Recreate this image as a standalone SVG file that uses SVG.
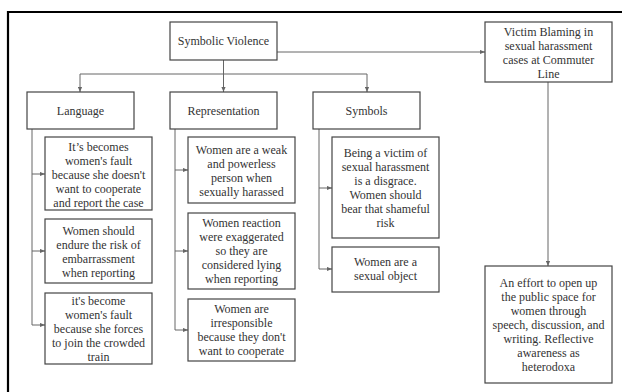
<svg xmlns="http://www.w3.org/2000/svg" width="622" height="392" viewBox="0 0 622 392">
<style>
.box{fill:#fff;stroke:#444;stroke-width:1.2}
.ln{fill:none;stroke:#666;stroke-width:1}
.t text{font-size:12px;fill:#333;text-anchor:middle}
</style>
<defs>
<marker id="ah" viewBox="0 0 6 6" refX="6" refY="3" markerWidth="5" markerHeight="5" orient="auto">
<path d="M0,0.5 L6,3 L0,5.5 z" fill="#666"/>
</marker>
</defs>
<rect width="622" height="392" fill="#fff"/>
<path d="M8,392 V12 H622" fill="none" stroke="#000" stroke-width="2.2"/>
<g id="connectors">
<path class="ln" d="M223.5,60 V74"/>
<path class="ln" d="M80,74 H367"/>
<path class="ln" d="M80,74 V92" marker-end="url(#ah)"/>
<path class="ln" d="M223.5,74 V92" marker-end="url(#ah)"/>
<path class="ln" d="M367,74 V92" marker-end="url(#ah)"/>
<path class="ln" d="M277,52 H485" marker-end="url(#ah)"/>
<path class="ln" d="M548,82 V266" marker-end="url(#ah)"/>
<path class="ln" d="M32,129 V325"/>
<path class="ln" d="M32,174 H45" marker-end="url(#ah)"/>
<path class="ln" d="M32,251 H45" marker-end="url(#ah)"/>
<path class="ln" d="M32,325 H45" marker-end="url(#ah)"/>
<path class="ln" d="M175,129 V330"/>
<path class="ln" d="M175,170 H188" marker-end="url(#ah)"/>
<path class="ln" d="M175,251 H188" marker-end="url(#ah)"/>
<path class="ln" d="M175,330 H188" marker-end="url(#ah)"/>
<path class="ln" d="M319,129 V269"/>
<path class="ln" d="M319,188 H332" marker-end="url(#ah)"/>
<path class="ln" d="M319,269 H332" marker-end="url(#ah)"/>
</g>
<g class="t" font-family="Liberation Serif, Times New Roman, DejaVu Serif, serif">
<g id="symbolic-violence"><rect class="box" x="170" y="22" width="107" height="38"/><text x="223.5" y="45">Symbolic Violence</text></g>
<g id="victim-blaming"><rect class="box" x="485" y="22" width="127" height="60"/>
<text x="548.5" y="36">Victim Blaming in</text><text x="548.5" y="50">sexual harassment</text><text x="548.5" y="64">cases at Commuter</text><text x="548.5" y="78">Line</text></g>
<g id="language"><rect class="box" x="27" y="92" width="107" height="37"/><text x="80.5" y="115">Language</text></g>
<g id="representation"><rect class="box" x="170" y="92" width="107" height="37"/><text x="223.5" y="115">Representation</text></g>
<g id="symbols"><rect class="box" x="313" y="92" width="107" height="37"/><text x="366.5" y="115">Symbols</text></g>
<g id="lang-1"><rect class="box" x="45" y="137" width="107" height="73"/>
<text x="98.5" y="151">It’s becomes</text><text x="98.5" y="165">women's fault</text><text x="98.5" y="179">because she doesn't</text><text x="98.5" y="193">want to cooperate</text><text x="98.5" y="207">and report the case</text></g>
<g id="lang-2"><rect class="box" x="45" y="219" width="107" height="64"/>
<text x="98.5" y="235">Women should</text><text x="98.5" y="249">endure the risk of</text><text x="98.5" y="263">embarrassment</text><text x="98.5" y="277">when reporting</text></g>
<g id="lang-3"><rect class="box" x="45" y="293" width="107" height="71"/>
<text x="98.5" y="305">it's become</text><text x="98.5" y="319">women's fault</text><text x="98.5" y="333">because she forces</text><text x="98.5" y="347">to join the crowded</text><text x="98.5" y="361">train</text></g>
<g id="rep-1"><rect class="box" x="188" y="137" width="107" height="66"/>
<text x="241.5" y="154">Women are a weak</text><text x="241.5" y="168">and powerless</text><text x="241.5" y="182">person when</text><text x="241.5" y="196">sexually harassed</text></g>
<g id="rep-2"><rect class="box" x="188" y="213" width="107" height="76"/>
<text x="241.5" y="227">Women reaction</text><text x="241.5" y="241">were exaggerated</text><text x="241.5" y="255">so they are</text><text x="241.5" y="269">considered lying</text><text x="241.5" y="283">when reporting</text></g>
<g id="rep-3"><rect class="box" x="188" y="299" width="107" height="62"/>
<text x="241.5" y="313">Women are</text><text x="241.5" y="327">irresponsible</text><text x="241.5" y="341">because they don't</text><text x="241.5" y="355">want to cooperate</text></g>
<g id="sym-1"><rect class="box" x="332" y="137" width="107" height="101"/>
<text x="385.5" y="157">Being a victim of</text><text x="385.5" y="171">sexual harassment</text><text x="385.5" y="185">is a disgrace.</text><text x="385.5" y="199">Women should</text><text x="385.5" y="213">bear that shameful</text><text x="385.5" y="227">risk</text></g>
<g id="sym-2"><rect class="box" x="332" y="247" width="107" height="45"/>
<text x="385.5" y="266">Women are a</text><text x="385.5" y="280">sexual object</text></g>
<g id="effort"><rect class="box" x="485" y="266" width="127" height="117"/>
<text x="548.5" y="287">An effort to open up</text><text x="548.5" y="301">the public space for</text><text x="548.5" y="315">women through</text><text x="548.5" y="329">speech, discussion, and</text><text x="548.5" y="343">writing. Reflective</text><text x="548.5" y="357">awareness as</text><text x="548.5" y="371">heterodoxa</text></g>
</g>
</svg>
